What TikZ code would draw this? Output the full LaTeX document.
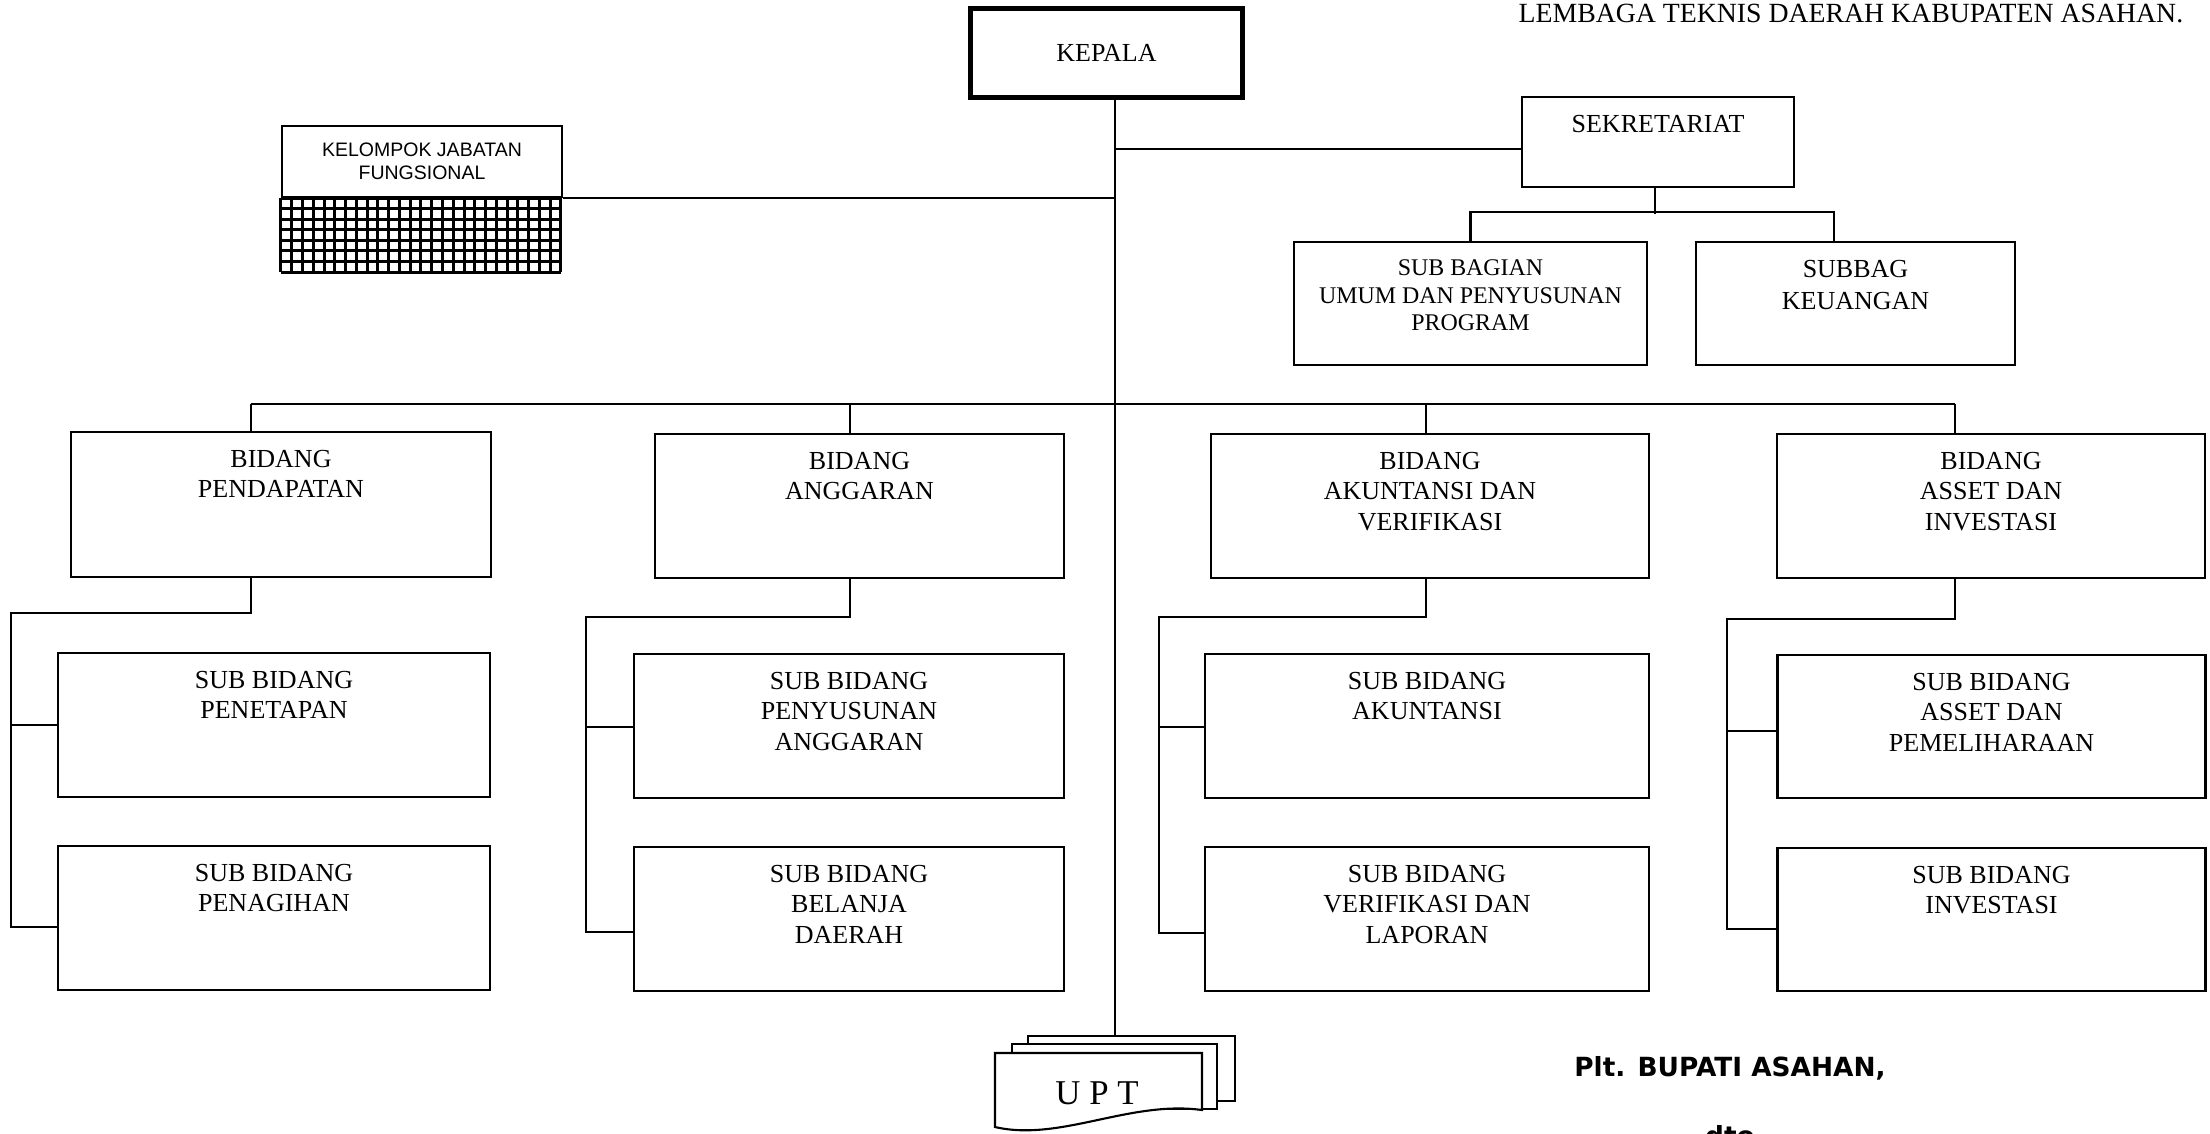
\documentclass[tikz,border=0pt]{standalone}
\usepackage{fontspec}
\setmainfont{Liberation Serif}
\newfontfamily\kjffont{Liberation Sans}
\newfontfamily\signfont{DejaVu Sans}

\begin{document}
\begin{tikzpicture}[
    % Node styles
    unitbox/.style={
        rectangle, draw=black, line width=0.6pt, fill=white,
        inner sep=0pt
    },
    headbox/.style={
        unitbox, line width=1.4pt,
        font=\fontsize{7.4}{8.7}\selectfont
    },
    boxtxt/.style={
        font=\fontsize{7.4}{8.7}\selectfont,
        align=center, inner sep=0pt, anchor=north, yshift=-0.185cm
    },
    link/.style={line width=0.6pt},
    gridline/.style={line width=0.85pt},
]

\useasboundingbox (0,0) rectangle (22.10,-11.33);

%% ---- TITLE ----
\node[font=\fontsize{7.9}{9}\selectfont, anchor=east, inner sep=0pt]
    (title) at (21.84,-0.13) {LEMBAGA TEKNIS DAERAH KABUPATEN ASAHAN.};

%% ---- KEPALA ----
\node[headbox, minimum width=2.72cm, minimum height=0.89cm] (kepala) at (11.065,-0.53) {KEPALA};

%% ---- SEKRETARIAT ----
\node[unitbox, minimum width=2.72cm, minimum height=0.90cm,
      label={[boxtxt]north:SEKRETARIAT}] (sekret) at (16.58,-1.42) {};
\node[unitbox, minimum width=3.53cm, minimum height=1.23cm,
      label={[boxtxt, font=\fontsize{6.8}{7.8}\selectfont]north:SUB BAGIAN\\UMUM DAN PENYUSUNAN\\PROGRAM}]
      (umum) at (14.705,-3.035) {};
\node[unitbox, minimum width=3.19cm, minimum height=1.23cm,
      label={[boxtxt, font=\fontsize{7.4}{9.1}\selectfont]north:SUBBAG\\KEUANGAN}]
      (keuangan) at (18.555,-3.035) {};

%% ---- KELOMPOK JABATAN FUNGSIONAL ----
\node[unitbox, minimum width=2.80cm, minimum height=0.71cm, align=center,
      font=\kjffont\fontsize{5.55}{6.4}\selectfont] (kjf) at (4.22,-1.615) {KELOMPOK JABATAN\\FUNGSIONAL};
\foreach \i in {0,...,26}
    \draw[gridline] ([xshift=\i*0.1077cm]kjf.south west) -- ++(0,-0.74);
\foreach \j in {0,...,7}
    \draw[gridline] ([yshift=-\j*0.1057cm]kjf.south west) -- ++(2.80,0);

%% ---- BIDANG ----
\node[unitbox, minimum width=4.20cm, minimum height=1.45cm,
      label={[boxtxt]north:BIDANG\\PENDAPATAN}] (pendapatan) at (2.81,-5.045) {};
\node[unitbox, minimum width=4.09cm, minimum height=1.44cm,
      label={[boxtxt]north:BIDANG\\ANGGARAN}] (anggaran) at (8.595,-5.06) {};
\node[unitbox, minimum width=4.38cm, minimum height=1.44cm,
      label={[boxtxt]north:BIDANG\\AKUNTANSI DAN\\VERIFIKASI}] (akuntansi) at (14.30,-5.06) {};
\node[unitbox, minimum width=4.28cm, minimum height=1.44cm,
      label={[boxtxt]north:BIDANG\\ASSET DAN\\INVESTASI}] (asset) at (19.91,-5.06) {};

%% ---- SUB BIDANG ----
\node[unitbox, minimum width=4.32cm, minimum height=1.44cm,
      label={[boxtxt]north:SUB BIDANG\\PENETAPAN}] (penetapan) at (2.74,-7.25) {};
\node[unitbox, minimum width=4.32cm, minimum height=1.44cm,
      label={[boxtxt]north:SUB BIDANG\\PENAGIHAN}] (penagihan) at (2.74,-9.18) {};
\node[unitbox, minimum width=4.30cm, minimum height=1.44cm,
      label={[boxtxt]north:SUB BIDANG\\PENYUSUNAN\\ANGGARAN}] (penyusunan) at (8.49,-7.26) {};
\node[unitbox, minimum width=4.30cm, minimum height=1.44cm,
      label={[boxtxt]north:SUB BIDANG\\BELANJA\\DAERAH}] (belanja) at (8.49,-9.19) {};
\node[unitbox, minimum width=4.44cm, minimum height=1.44cm,
      label={[boxtxt]north:SUB BIDANG\\AKUNTANSI}] (subakun) at (14.27,-7.26) {};
\node[unitbox, minimum width=4.44cm, minimum height=1.44cm,
      label={[boxtxt]north:SUB BIDANG\\VERIFIKASI DAN\\LAPORAN}] (verifikasi) at (14.27,-9.19) {};
\node[unitbox, minimum width=4.28cm, minimum height=1.43cm,
      label={[boxtxt]north:SUB BIDANG\\ASSET DAN\\PEMELIHARAAN}] (pemeliharaan) at (19.915,-7.265) {};
\node[unitbox, minimum width=4.28cm, minimum height=1.43cm,
      label={[boxtxt]north:SUB BIDANG\\INVESTASI}] (investasi) at (19.915,-9.195) {};

%% ---- UPT (stacked sheets) ----
\node[unitbox, minimum width=2.07cm, minimum height=0.65cm] (upt3) at (11.315,-10.685) {};
\node[unitbox, minimum width=2.05cm, minimum height=0.65cm] (upt2) at (11.145,-10.765) {};
\draw[link, fill=white] (9.95,-10.53) -- (12.02,-10.53) -- (12.02,-11.10)
    .. controls (11.30,-11.00) and (10.60,-11.42) .. (9.95,-11.27) -- cycle;
\node[font=\fontsize{9.9}{11}\selectfont] (upt) at (10.97,-10.93) {U P T};

%% ---- SIGNATURE ----
\node[font=\signfont\bfseries\fontsize{7.5}{9}\selectfont] (bupati) at (17.30,-10.685) {Plt. BUPATI ASAHAN,};
\node[font=\signfont\bfseries\fontsize{7.5}{9}\selectfont, anchor=north, inner sep=0pt] (dto) at (17.30,-11.25) {dto};

%% ---- CONNECTORS ----
\coordinate (trunk) at (11.15,-4.04);
\coordinate (pend top) at (2.51,-4.04);
\coordinate (angg top) at (8.50,-4.04);
\coordinate (akun top) at (14.26,-4.04);
\coordinate (asset top) at (19.55,-4.04);
\coordinate (pend spine) at (0.11,-6.13);
\coordinate (angg spine) at (5.86,-6.17);
\coordinate (akun spine) at (11.59,-6.17);
\coordinate (asset spine) at (17.27,-6.19);

% Kepala -> UPT
\draw[link] (kepala.south -| trunk) -- (upt3.north -| trunk);

% trunk -> Sekretariat -> sub bagian
\draw[link] ([yshift=-0.07cm]sekret.west -| trunk) -- ([yshift=-0.07cm]sekret.west);
\draw[link] ([xshift=-0.03cm]sekret.south) -- ++(0,-0.26);
\draw[link] (umum.north) -- ++(0,0.29) -| ([xshift=-0.215cm]keuangan.north);

% Kelompok jabatan fungsional -> trunk
\draw[link] (kjf.south east) -- (kjf.south east -| trunk);

% bus -> bidang
\draw[link] (pend top) -- (asset top);
\draw[link] (pend top) -- (pend top |- pendapatan.north);
\draw[link] (angg top) -- (angg top |- anggaran.north);
\draw[link] (akun top) -- (akun top |- akuntansi.north);
\draw[link] (asset top) -- (asset top |- asset.north);

% bidang -> sub bidang
\draw[link] (pend top |- pendapatan.south) |- (pend spine) |- ([yshift=-0.09cm]penagihan.west);
\draw[link] (pend spine |- penetapan.west) -- (penetapan.west);

\draw[link] (angg top |- anggaran.south) |- (angg spine) |- ([yshift=-0.13cm]belanja.west);
\draw[link] ([yshift=-0.01cm]angg spine |- penyusunan.west) -- ([yshift=-0.01cm]penyusunan.west);

\draw[link] (akun top |- akuntansi.south) |- (akun spine) |- ([yshift=-0.14cm]verifikasi.west);
\draw[link] ([yshift=-0.01cm]akun spine |- subakun.west) -- ([yshift=-0.01cm]subakun.west);

\draw[link] (asset top |- asset.south) |- (asset spine) |- ([yshift=-0.095cm]investasi.west);
\draw[link] ([yshift=-0.045cm]asset spine |- pemeliharaan.west) -- ([yshift=-0.045cm]pemeliharaan.west);

\end{tikzpicture}
\end{document}
